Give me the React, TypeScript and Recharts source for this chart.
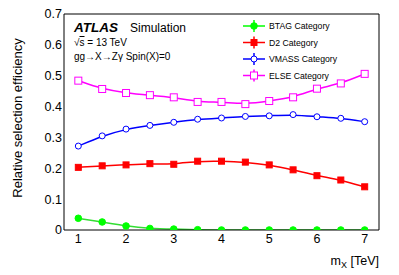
import { LineChart, Line, XAxis, YAxis } from 'recharts'

const MASS = [1, 1.5, 2, 2.5, 3, 3.5, 4, 4.5, 5, 5.5, 6, 6.5, 7]
const BTAG = [0.038, 0.026, 0.013, 0.005, 0.003, 0.001, 0.0, 0.0, 0.0, 0.0, 0.0, 0.0, 0.0]
const D2 = [0.203, 0.208, 0.211, 0.215, 0.213, 0.223, 0.223, 0.22, 0.211, 0.195, 0.176, 0.162, 0.14]
const VMASS = [0.272, 0.305, 0.327, 0.339, 0.349, 0.359, 0.363, 0.368, 0.37, 0.374, 0.367, 0.362, 0.351]
const ELSE = [0.484, 0.457, 0.444, 0.437, 0.43, 0.415, 0.415, 0.408, 0.418, 0.43, 0.458, 0.475, 0.506]

const X_TICKS = [1, 2, 3, 4, 5, 6, 7]
const Y_TICKS = [0, 0.1, 0.2, 0.3, 0.4, 0.5, 0.6, 0.7]
const X_DOMAIN: [number, number] = [0.7, 7.3]
const Y_DOMAIN: [number, number] = [0, 0.7]

const SERIES = [
  { key: 'btag', name: 'BTAG Category', values: BTAG, color: '#00ff00', line: '#33dd33', marker: 'circle', filled: true },
  { key: 'd2', name: 'D2 Category', values: D2, color: '#ff0000', line: '#ff0000', marker: 'square', filled: true },
  { key: 'vmass', name: 'VMASS Category', values: VMASS, color: '#0000ff', line: '#0000ff', marker: 'circle', filled: false },
  { key: 'else', name: 'ELSE Category', values: ELSE, color: '#ff00ff', line: '#ff00ff', marker: 'square', filled: false },
]

const data = MASS.map((m, i) => {
  const row: Record<string, number> = { m }
  SERIES.forEach((s) => { row[s.key] = s.values[i] })
  return row
})

// minor tick positions between the labelled ones
function minorTicks(lo: number, hi: number, step: number, major: number) {
  const out: number[] = []
  for (let i = Math.ceil(lo / step); i * step <= hi + 1e-9; i++) {
    const v = +(i * step).toFixed(4)
    if (Math.abs(v / major - Math.round(v / major)) > 1e-6) out.push(v)
  }
  return out
}
const X_MINOR = minorTicks(0.7, 7.3, 0.2, 1)
const Y_MINOR = minorTicks(0, 0.7, 0.02, 0.1)

const FONT = '"Liberation Sans", Arial, Helvetica, sans-serif'

function Marker({ cx, cy, marker, filled, color }: { cx: number; cy: number; marker: string; filled: boolean; color: string }) {
  if (marker === 'square') {
    const s = filled ? 6 : 7
    return <rect x={cx - s / 2} y={cy - s / 2} width={s} height={s} fill={filled ? color : 'white'} stroke={color} strokeWidth={1} />
  }
  return <circle cx={cx} cy={cy} r={filled ? 3.3 : 3} fill={filled ? color : 'white'} stroke={color} strokeWidth={1} />
}

const tickStyle = { fontSize: 12.5, fill: '#000', fontFamily: FONT }
const tickLn = { stroke: '#000' }

export default function App() {
  return (
    <div style={{ position: 'fixed', left: 0, top: 0, width: 399, height: 275, background: '#fff' }}>
      <LineChart width={399} height={275} data={data} margin={{ top: 14, right: 20, bottom: 44, left: 63 }}>
        {/* labelled axes */}
        <XAxis xAxisId="x" dataKey="m" type="number" domain={X_DOMAIN} ticks={X_TICKS} interval={0} allowDataOverflow
          height={1} tickLine={false} tickSize={0} tickMargin={4} axisLine={{ stroke: '#000' }} tick={tickStyle} />
        <YAxis yAxisId="y" type="number" domain={Y_DOMAIN} ticks={Y_TICKS} interval={0} allowDataOverflow
          width={1} tickLine={false} tickSize={0} tickMargin={2} axisLine={{ stroke: '#000' }} tick={tickStyle}
          tickFormatter={(v: number) => (v === 0 ? '0' : v.toFixed(1))} />

        {/* inward ticks, ROOT style, on all four sides */}
        <XAxis xAxisId="xb1" type="number" domain={X_DOMAIN} ticks={X_TICKS} interval={0} allowDataOverflow height={1}
          mirror tick={false} tickSize={7} axisLine={false} tickLine={tickLn} />
        <XAxis xAxisId="xb2" type="number" domain={X_DOMAIN} ticks={X_MINOR} interval={0} allowDataOverflow height={1}
          mirror tick={false} tickSize={3.5} axisLine={false} tickLine={tickLn} />
        <XAxis xAxisId="xt1" orientation="top" type="number" domain={X_DOMAIN} ticks={X_TICKS} interval={0} allowDataOverflow height={1}
          mirror tick={false} tickSize={7} axisLine={{ stroke: '#000' }} tickLine={tickLn} />
        <XAxis xAxisId="xt2" orientation="top" type="number" domain={X_DOMAIN} ticks={X_MINOR} interval={0} allowDataOverflow height={1}
          mirror tick={false} tickSize={3.5} axisLine={false} tickLine={tickLn} />
        <YAxis yAxisId="yl1" type="number" domain={Y_DOMAIN} ticks={Y_TICKS} interval={0} allowDataOverflow width={1}
          mirror tick={false} tickSize={9} axisLine={false} tickLine={tickLn} />
        <YAxis yAxisId="yl2" type="number" domain={Y_DOMAIN} ticks={Y_MINOR} interval={0} allowDataOverflow width={1}
          mirror tick={false} tickSize={4.5} axisLine={false} tickLine={tickLn} />
        <YAxis yAxisId="yr1" orientation="right" type="number" domain={Y_DOMAIN} ticks={Y_TICKS} interval={0} allowDataOverflow width={1}
          mirror tick={false} tickSize={9} axisLine={{ stroke: '#000' }} tickLine={tickLn} />
        <YAxis yAxisId="yr2" orientation="right" type="number" domain={Y_DOMAIN} ticks={Y_MINOR} interval={0} allowDataOverflow width={1}
          mirror tick={false} tickSize={4.5} axisLine={false} tickLine={tickLn} />

        {SERIES.map((s) => (
          <Line
            key={s.key}
            xAxisId="x"
            yAxisId="y"
            dataKey={s.key}
            type="basis"
            stroke={s.line}
            strokeWidth={1.5}
            isAnimationActive={false}
            activeDot={false}
            dot={(p: any) => (
              <Marker key={`${s.key}-${p.index}`} cx={p.cx} cy={p.cy} marker={s.marker} filled={s.filled} color={s.color} />
            )}
          />
        ))}
      </LineChart>

      <svg width={399} height={275} style={{ position: 'absolute', left: 0, top: 0, pointerEvents: 'none' }} fontFamily={FONT}>
        <text x={74} y={32} fontSize={13.5} fontWeight="bold" fontStyle="italic">ATLAS</text>
        <text x={130} y={32} fontSize={12}>Simulation</text>
        <text x={74} y={46} fontSize={10}>√<tspan textDecoration="overline">s</tspan> = 13 TeV</text>
        <text x={74} y={60} fontSize={10}>gg→X→Zγ Spin(X)=0</text>

        <text transform="translate(22,118) rotate(-90)" textAnchor="middle" fontSize={13}>Relative selection efficiency</text>
        <text x={379} y={265} textAnchor="end" fontSize={12.5}>
          m<tspan fontSize={9} dy={3}>X</tspan><tspan dy={-3}> [TeV]</tspan>
        </text>

        {SERIES.map((s, i) => {
          const y = 26 + i * 16.5
          return (
            <g key={s.key}>
              <line x1={243} x2={265} y1={y} y2={y} stroke={s.color} strokeWidth={1.5} />
              <line x1={254} x2={254} y1={y - 6} y2={y + 6} stroke={s.color} strokeWidth={1.5} />
              <Marker cx={254} cy={y} marker={s.marker} filled={s.filled} color={s.color} />
              <text x={269} y={y + 3.2} fontSize={8.7}>{s.name}</text>
            </g>
          )
        })}
      </svg>
    </div>
  )
}
